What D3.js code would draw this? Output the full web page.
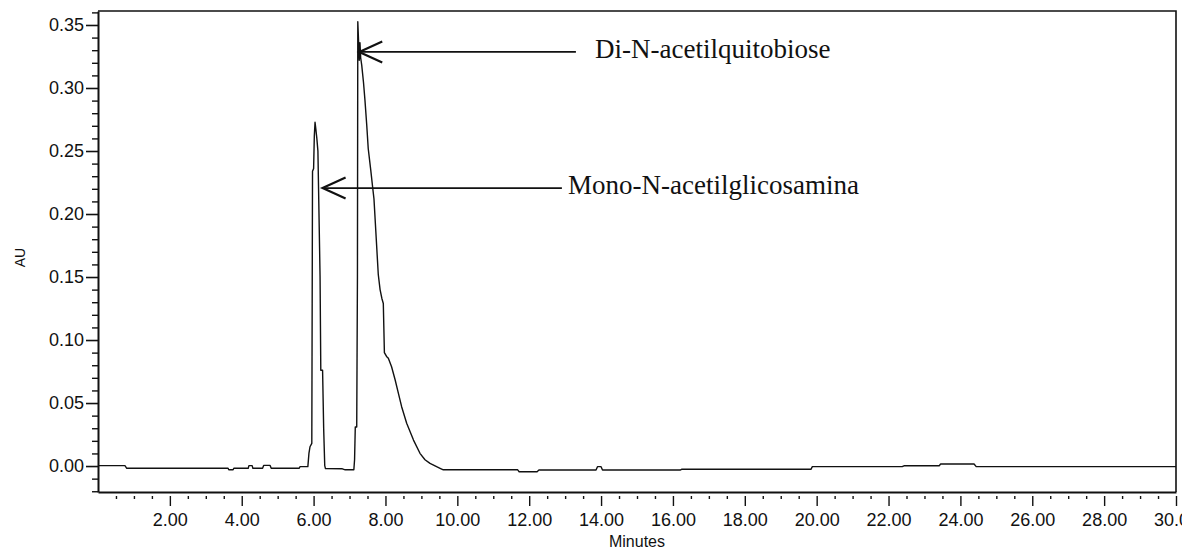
<!DOCTYPE html>
<html>
<head>
<meta charset="utf-8">
<script src="https://cdn.jsdelivr.net/npm/d3@7"></script>
<style>
  html, body { margin: 0; padding: 0; background: #fff; }
  svg { display: block; }
</style>
</head>
<body>
<svg id="chart" width="1182" height="552"></svg>
<script>
// Chromatogram trace: retention time (min) and detector response (AU)
const retentionTime = [
  0.00, 0.75, 0.80, 3.62, 3.64, 3.76, 3.78, 4.18, 4.20, 4.29, 4.31, 4.58, 4.61, 4.79, 4.82,
  5.60, 5.62, 5.84,
  5.87, 5.90, 5.95, 5.97, 6.00, 6.02, 6.04, 6.06, 6.09, 6.12, 6.15, 6.18, 6.20, 6.25, 6.28, 6.31, 6.33,
  6.80, 6.88, 7.12,
  7.14, 7.16, 7.20, 7.22, 7.23, 7.25, 7.27, 7.29, 7.31, 7.34, 7.39, 7.43, 7.48, 7.52, 7.59, 7.64,
  7.68, 7.71, 7.76, 7.80, 7.85, 7.90, 7.94, 7.97, 8.03, 8.08, 8.17, 8.27, 8.36, 8.45, 8.59, 8.78,
  8.96, 9.10, 9.24, 9.52, 9.61,
  11.68, 11.72, 12.22, 12.27, 13.86, 13.90, 14.00, 14.04, 16.20, 16.24, 19.84, 19.88,
  22.38, 22.43, 23.41, 23.45, 24.38, 24.44, 30.00
];
const absorbanceAU = [
  0.0003, 0.0003, -0.0018, -0.0018, -0.0030, -0.0030, -0.0018, -0.0018, 0.0003, 0.0003, -0.0018, -0.0018, 0.0005, 0.0005, -0.0018,
  -0.0018, -0.0005, -0.0005,
  0.0100, 0.0153, 0.0180, 0.2340, 0.2360, 0.2620, 0.2728, 0.2680, 0.2600, 0.2500, 0.2000, 0.1500, 0.0760, 0.0760, 0.0300, 0.0003, -0.0020,
  -0.0022, -0.0030, -0.0030,
  0.0050, 0.0310, 0.0310, 0.1500, 0.3526, 0.3380, 0.3220, 0.3360, 0.3240, 0.3180, 0.3040, 0.2900, 0.2700, 0.2520, 0.2350, 0.2220,
  0.2120, 0.1970, 0.1720, 0.1520, 0.1400, 0.1330, 0.1290, 0.0900, 0.0870, 0.0855, 0.0788, 0.0683, 0.0577, 0.0471, 0.0339, 0.0206,
  0.0101, 0.0050, 0.0021, -0.0018, -0.0030,
  -0.0030, -0.0045, -0.0045, -0.0032, -0.0032, -0.0005, -0.0005, -0.0032, -0.0032, -0.0026, -0.0026, -0.0005,
  -0.0005, 0.0002, 0.0002, 0.0016, 0.0016, -0.0005, -0.0005
];

// Axis tick labels
const xTickValues = [2, 4, 6, 8, 10, 12, 14, 16, 18, 20, 22, 24, 26, 28, 30];
const yTickValues = [0.00, 0.05, 0.10, 0.15, 0.20, 0.25, 0.30, 0.35];

// Peak identifications: arrow tip on the peak, arrow tail and label start (minutes)
const peakNames = ["Di-N-acetilquitobiose", "Mono-N-acetilglicosamina"];
const arrowTipTime = [7.27, 6.25];
const arrowTipAU = [0.3286, 0.2206];
const arrowTailTime = [13.30, 12.91];
const labelTime = [13.83, 13.08];

const svg = d3.select("#chart");
const plot = { left: 98, right: 1176, top: 11, bottom: 492 };

const x = d3.scaleLinear().domain([0, 30]).range([plot.left, plot.right]);
const y = d3.scaleLinear().domain([-0.0206, 0.3611]).range([plot.bottom, plot.top]);

const sans = "'Liberation Sans', Arial, Helvetica, sans-serif";
const serif = "'Liberation Serif', 'Times New Roman', Times, serif";
const ink = "#111";

// Frame (top and right edges)
svg.append("path")
  .attr("d", `M${plot.left},${plot.top}H${plot.right}V${plot.bottom}`)
  .attr("fill", "none").attr("stroke", ink).attr("stroke-width", 1.6);

// Y axis: minor ticks every 0.01, major every 0.05
const yMinor = d3.range(-2, 37).map(i => i / 100).filter(v => Math.round(v * 100) % 5 !== 0);
svg.append("g")
  .attr("transform", `translate(${plot.left},0)`)
  .call(d3.axisLeft(y).tickValues(yMinor).tickSize(6).tickSizeOuter(0).tickFormat(""))
  .call(g => g.select(".domain").remove())
  .call(g => g.selectAll(".tick line").attr("stroke", ink).attr("stroke-width", 1.4));

svg.append("g")
  .attr("transform", `translate(${plot.left},0)`)
  .call(d3.axisLeft(y).tickValues(yTickValues).tickSize(12).tickPadding(2)
    .tickSizeOuter(0).tickFormat(d3.format(".2f")))
  .call(g => g.select(".domain").attr("stroke", ink).attr("stroke-width", 2))
  .call(g => g.selectAll(".tick line").attr("stroke", ink).attr("stroke-width", 1.6))
  .call(g => g.selectAll(".tick text")
    .attr("font-family", sans).attr("font-size", 18).attr("fill", ink));

// X axis: minor ticks every 0.5 min, major every 2 min
const xMinor = d3.range(1, 60).map(i => i / 2).filter(v => v % 2 !== 0);
svg.append("g")
  .attr("transform", `translate(0,${plot.bottom})`)
  .call(d3.axisBottom(x).tickValues(xMinor).tickSize(7).tickSizeOuter(0).tickFormat(""))
  .call(g => g.select(".domain").remove())
  .call(g => g.selectAll(".tick line").attr("y1", 4).attr("stroke", ink).attr("stroke-width", 1.4));

svg.append("g")
  .attr("transform", `translate(0,${plot.bottom})`)
  .call(d3.axisBottom(x).tickValues(xTickValues).tickSize(14).tickPadding(7)
    .tickSizeOuter(0).tickFormat(d3.format(".2f")))
  .call(g => g.select(".domain").attr("stroke", ink).attr("stroke-width", 1.8))
  .call(g => g.selectAll(".tick line").attr("y1", 4).attr("stroke", ink).attr("stroke-width", 1.4))
  .call(g => g.selectAll(".tick text")
    .attr("font-family", sans).attr("font-size", 18).attr("fill", ink));

// Axis titles
svg.append("text")
  .attr("x", (plot.left + plot.right) / 2).attr("y", 547)
  .attr("text-anchor", "middle")
  .attr("font-family", sans).attr("font-size", 16).attr("fill", ink)
  .text("Minutes");

svg.append("text")
  .attr("transform", `translate(25,${(plot.top + plot.bottom) / 2 + 6}) rotate(-90)`)
  .attr("text-anchor", "middle")
  .attr("font-family", sans).attr("font-size", 14).attr("fill", ink)
  .text("AU");

// Detector trace
const trace = retentionTime.map((t, i) => [t, absorbanceAU[i]]);
svg.append("path")
  .datum(trace)
  .attr("fill", "none")
  .attr("stroke", ink)
  .attr("stroke-width", 1.4)
  .attr("stroke-linejoin", "round")
  .attr("d", d3.line().x(d => x(d[0])).y(d => y(d[1])));

// Peak labels with arrows
const notes = peakNames.map((name, i) => ({
  name,
  tipX: x(arrowTipTime[i]),
  tipY: y(arrowTipAU[i]),
  tailX: x(arrowTailTime[i]),
  textX: x(labelTime[i])
}));

const note = svg.append("g").selectAll("g").data(notes).join("g");
note.append("line")
  .attr("x1", d => d.tipX).attr("y1", d => d.tipY)
  .attr("x2", d => d.tailX).attr("y2", d => d.tipY)
  .attr("stroke", ink).attr("stroke-width", 1.8);
note.append("path")
  .attr("d", d => `M${d.tipX + 23},${d.tipY - 10.5}L${d.tipX},${d.tipY}L${d.tipX + 23},${d.tipY + 10.5}`)
  .attr("fill", "none").attr("stroke", ink).attr("stroke-width", 2.2);
note.append("text")
  .attr("x", d => d.textX).attr("y", d => d.tipY + 6)
  .attr("font-family", serif).attr("font-size", 27).attr("fill", ink)
  .text(d => d.name);
</script>
</body>
</html>
